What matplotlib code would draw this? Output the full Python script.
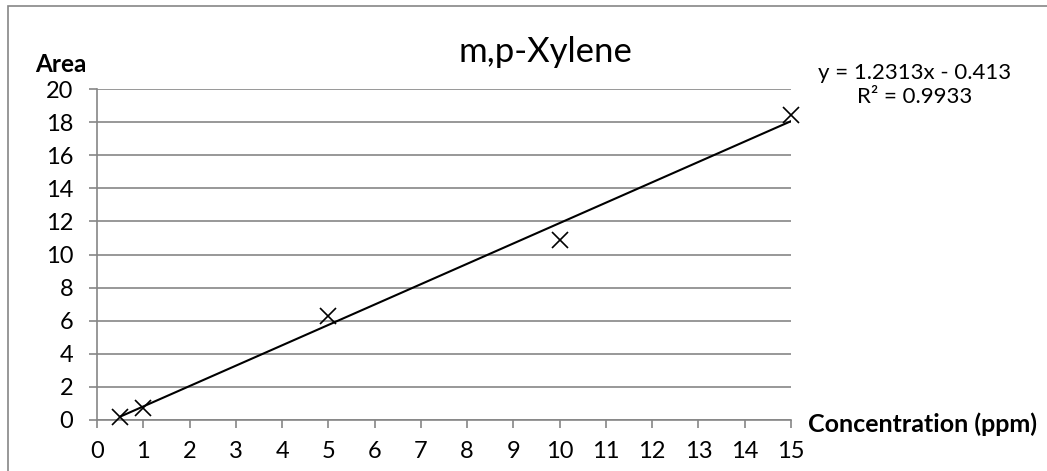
import numpy as np
import matplotlib
matplotlib.use('Agg')
import matplotlib.pyplot as plt
from matplotlib.patches import Rectangle

plt.rcParams['font.family'] = ['Lato', 'DejaVu Sans']

# data
conc = [0.5, 1, 5, 10, 15]
area = [0.2, 0.7, 6.3, 10.9, 18.4]
slope = 1.2313
intercept = -0.413
r2 = 0.9933

fig = plt.figure(figsize=(10.47, 4.71), dpi=100)
ax = fig.add_axes([97 / 1047, 1 - 420 / 471, (791 - 97) / 1047, (420 - 89) / 471])

grey = '#868686'

# outer chart border
fig.patches.append(Rectangle((8 / 1047, -0.1), 1.2, 1 - 6 / 471 + 0.1,
                             transform=fig.transFigure, fill=False,
                             edgecolor=grey, linewidth=1.2))

# trend line
xs = np.array([min(conc), max(conc)])
ax.plot(xs, slope * xs + intercept, color='black', linewidth=1.5, zorder=3)

# points
ax.plot(conc, area, linestyle='none', marker='x', color='black',
        markersize=11, markeredgewidth=1.2, zorder=4, clip_on=False)

ax.set_xlim(0, 15)
ax.set_ylim(0, 20)
ax.set_xticks(range(0, 16))
ax.set_yticks(range(0, 21, 2))
ax.yaxis.grid(True, color=grey, linewidth=1.2)
ax.set_axisbelow(True)

for s in ['top', 'right']:
    ax.spines[s].set_visible(False)
for s in ['left', 'bottom']:
    ax.spines[s].set_color(grey)
    ax.spines[s].set_linewidth(1.2)

ax.tick_params(axis='both', direction='out', length=6, width=1.2, color=grey,
               labelsize=17)
ax.tick_params(axis='y', pad=11)
ax.tick_params(axis='x', pad=9)

fig.text(545 / 1047, 1 - 52 / 471, 'm,p-Xylene', fontsize=25,
         ha='center', va='center')
fig.text(35 / 1047, 1 - 64 / 471, 'Area', fontsize=17.5, fontweight='bold',
         ha='left', va='center')
fig.text(808 / 1047, 1 - 424 / 471, 'Concentration (ppm)', fontsize=18,
         fontweight='bold', ha='left', va='center')
fig.text(915 / 1047, 1 - 73 / 471, f'y = {slope}x - {abs(intercept)}',
         fontsize=16, ha='center', va='center')
fig.text(915 / 1047, 1 - 97 / 471, f'R² = {r2}', fontsize=16,
         ha='center', va='center')

fig.savefig('out.png', dpi=100)
